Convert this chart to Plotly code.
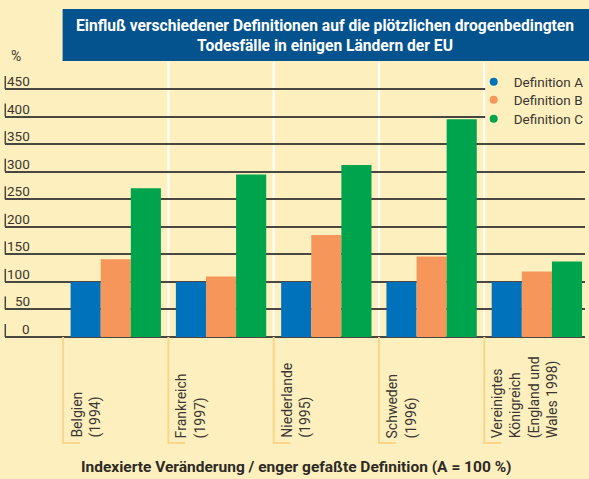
import plotly.graph_objects as go

categories = ["Belgien<br>(1994)", "Frankreich<br>(1997)", "Niederlande<br>(1995)",
              "Schweden<br>(1996)", "Vereinigtes<br>Königreich<br>(England und<br>Wales 1998)"]
def_a = [100, 100, 100, 100, 100]
def_b = [141, 110, 185, 146, 119]
def_c = [270, 295, 312, 395, 137]
series_names = ["Definition A", "Definition B", "Definition C"]
series_colors = ["#0071BB", "#F6965B", "#00A44D"]
y_ticks = [0, 50, 100, 150, 200, 250, 300, 350, 400, 450]

title_text = ("Einfluß verschiedener Definitionen auf die plötzlichen drogenbedingten<br>"
              "Todesfälle in einigen Ländern der EU")
x_title = "Indexierte Veränderung / enger gefaßte Definition (A = 100 %)"

BG = "#FDF0BE"
FONT = "Roboto, Liberation Sans, sans-serif"
TXT = "#3a3632"
GRID = "#4a4641"

W, H = 589, 479
ML, MR, MT, MB = 5, 0, 62, 142
PW, PH = W - ML - MR, H - MT - MB
xs = list(range(len(categories)))

fig = go.Figure()
for name, vals, col in zip(series_names, [def_a, def_b, def_c], series_colors):
    fig.add_trace(go.Bar(x=xs, y=vals, name=name, marker=dict(color=col, line=dict(width=0)),
                         showlegend=False, hoverinfo="y+name"))
legend_ids = ["legend", "legend2", "legend3"]
legend_centers = [82, 100, 119]
for name, col, lid in zip(series_names, series_colors, legend_ids):
    fig.add_trace(go.Scatter(x=[None], y=[None], mode="markers", name=name, legend=lid,
                             marker=dict(color=col, size=8, symbol="circle")))

shapes = []
annotations = []
# white separators between groups
for i in range(len(categories) - 1):
    shapes.append(dict(type="line", xref="x", yref="paper", x0=i + 0.5, x1=i + 0.5,
                       y0=0, y1=1, line=dict(color="white", width=2), layer="below"))
# background patch behind the legend, hiding the grid lines there
shapes.append(dict(type="rect", xref="paper", yref="paper",
                   x0=(488.5 - ML) / PW, x1=1.01,
                   y0=1 - (130 - MT) / PH, y1=1 - (68 - MT) / PH,
                   fillcolor=BG, line=dict(width=0), layer="above"))
# orange label brackets
foot_y = -(443 - 337) / PH
for i, cat in enumerate(categories):
    shapes.append(dict(type="path", xref="x", yref="paper",
                       path=f"M {i-0.5},0 L {i-0.5},{foot_y} L {i-0.5+17/106},{foot_y}",
                       line=dict(color="#FBD68A", width=2), layer="above"))
    annotations.append(dict(x=i - 0.5, xref="x", y=-(440 - 337) / PH, yref="paper",
                            text=cat, textangle=-90, xanchor="left", yanchor="bottom",
                            align="left", showarrow=False, xshift=3,
                            font=dict(family=FONT, size=14, color=TXT)))
# y tick labels and tick marks
for v in y_ticks:
    annotations.append(dict(x=(32 - ML) / PW, xref="paper", y=v, yref="y",
                            text=str(v), xanchor="right", yanchor="bottom", yshift=-2,
                            showarrow=False, font=dict(family=FONT, size=13.5, color=TXT)))
    shapes.append(dict(type="line", xref="paper", yref="y", x0=0.0005, x1=0.0005,
                       y0=v, y1=v + 13 / (PH / 499), line=dict(color=GRID, width=1.5)))
# percent sign
annotations.append(dict(x=(9 - ML) / PW, xref="paper", y=1 + (62 - 56) / PH,
                        yref="paper", text="%", xanchor="left", yanchor="middle",
                        showarrow=False, font=dict(family=FONT, size=14, color=TXT)))
# title box
shapes.append(dict(type="rect", xref="paper", yref="paper",
                   x0=(63 - ML) / PW, x1=1.01,
                   y0=1 + (62 - 61) / PH, y1=1 + (62 - 9) / PH,
                   fillcolor="#04538F", line=dict(width=0), layer="below"))
annotations.append(dict(x=(327 - ML) / PW, xref="paper", y=1 + (62 - 36) / PH,
                        yref="paper", text="<b>" + title_text + "</b>", showarrow=False,
                        xanchor="center", yanchor="middle", align="center",
                        font=dict(family=FONT, size=15.6, color="white")))
# x title
annotations.append(dict(x=(298.5 - ML) / PW, xref="paper", y=-(467 - 337) / PH,
                        yref="paper", text="<b>" + x_title + "</b>", showarrow=False,
                        xanchor="center", yanchor="middle",
                        font=dict(family=FONT, size=15.5, color="#2e2a26")))

legend_layouts = {}
for lid, cy in zip(legend_ids, legend_centers):
    legend_layouts[lid] = dict(x=(489 - ML) / PW, xanchor="left", y=1 - (cy - MT) / PH,
                               yanchor="middle", bgcolor="rgba(0,0,0,0)", borderwidth=0,
                               indentation=-12, itemwidth=30,
                               font=dict(family=FONT, size=13.5, color=TXT))

fig.update_layout(
    width=W, height=H,
    margin=dict(l=ML, r=MR, t=MT, b=MB, pad=0),
    paper_bgcolor=BG, plot_bgcolor=BG,
    barmode="group", bargap=0.142, bargroupgap=0,
    font=dict(family=FONT, size=14, color=TXT),
    xaxis=dict(range=[-1.052, 4.457], showticklabels=False, showgrid=False,
               zeroline=False, showline=False, ticks=""),
    yaxis=dict(range=[0, 499], tickvals=y_ticks, showticklabels=False, showgrid=True,
               gridcolor=GRID, gridwidth=1.5, zeroline=True, zerolinecolor=GRID,
               zerolinewidth=1.5, showline=False, ticks=""),
    shapes=shapes, annotations=annotations,
    showlegend=True,
    **legend_layouts,
)

fig.write_html("out.html", config={"displayModeBar": False},
               post_script="document.body.style.margin='0';")
